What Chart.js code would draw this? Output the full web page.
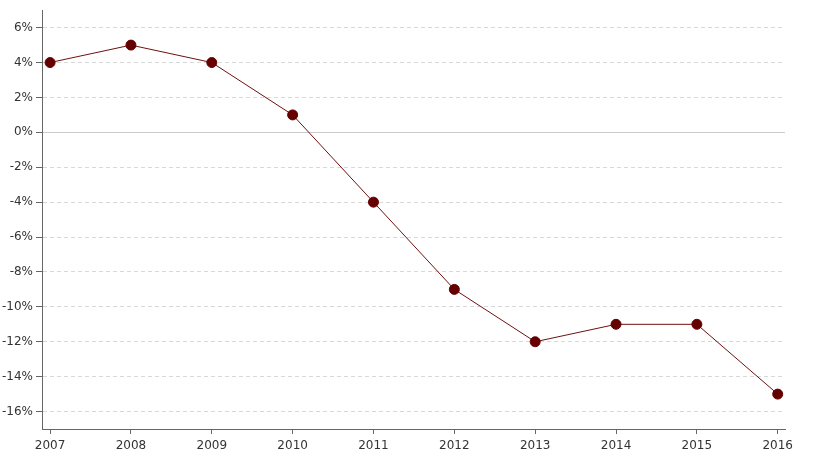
<!DOCTYPE html>
<html>
<head>
<meta charset="utf-8">
<script src="https://cdn.jsdelivr.net/npm/chart.js@4"></script>
<style>
html, body { margin: 0; padding: 0; background: #fff; }
#wrap { width: 821px; height: 464px; }
</style>
</head>
<body>
<div id="wrap"><canvas id="grafico" width="821" height="464"></canvas></div>
<script>
// DADOS
var anos = [2007, 2008, 2009, 2010, 2011, 2012, 2013, 2014, 2015, 2016];
var valores = [4, 5, 4, 1, -4, -9, -12, -11, -11, -15];
var yTicks = [-16, -14, -12, -10, -8, -6, -4, -2, 0, 2, 4, 6];

var pontos = anos.map(function (a, i) { return { x: a, y: valores[i] }; });

// GRÁFICO
new Chart(document.getElementById('grafico'), {
  type: 'line',
  data: {
    datasets: [{
      data: pontos,
      borderColor: '#6e1010',
      borderWidth: 1,
      backgroundColor: '#660000',
      pointBackgroundColor: '#660000',
      pointBorderColor: '#660000',
      pointRadius: 5,
      tension: 0
    }]
  },
  options: {
    responsive: false,
    animation: false,
    layout: { padding: { top: 9, right: 36, left: 0, bottom: 0 } },
    plugins: { legend: { display: false }, tooltip: { enabled: false } },
    scales: {
      x: {
        type: 'linear',
        min: 2006.9,
        max: 2016.09,
        afterBuildTicks: function (s) { s.ticks = anos.map(function (a) { return { value: a }; }); },
        afterFit: function (s) { s.height = 35; },
        ticks: {
          color: '#333',
          font: { family: 'DejaVu Sans', size: 12 },
          padding: 5,
          maxRotation: 0,
          callback: function (v) { return String(v); }
        },
        grid: { drawOnChartArea: false, drawTicks: true, tickLength: 5, tickColor: '#666' },
        border: { color: '#666', width: 1 }
      },
      y: {
        min: -17,
        max: 7,
        afterBuildTicks: function (s) { s.ticks = yTicks.map(function (v) { return { value: v }; }); },
        afterFit: function (s) { s.width = 42; },
        ticks: {
          color: '#333',
          font: { family: 'DejaVu Sans', size: 12 },
          padding: 3,
          callback: function (v) { return v + '%'; }
        },
        grid: {
          color: function (c) { return c.tick && c.tick.value === 0 ? '#cccccc' : '#d8d8d8'; },
          tickColor: '#666',
          tickLength: 6,
          lineWidth: 1
        },
        border: {
          color: '#666',
          width: 1,
          dash: function (c) { return c.tick && c.tick.value === 0 ? [] : [4, 3]; }
        }
      }
    }
  }
});
</script>
</body>
</html>
